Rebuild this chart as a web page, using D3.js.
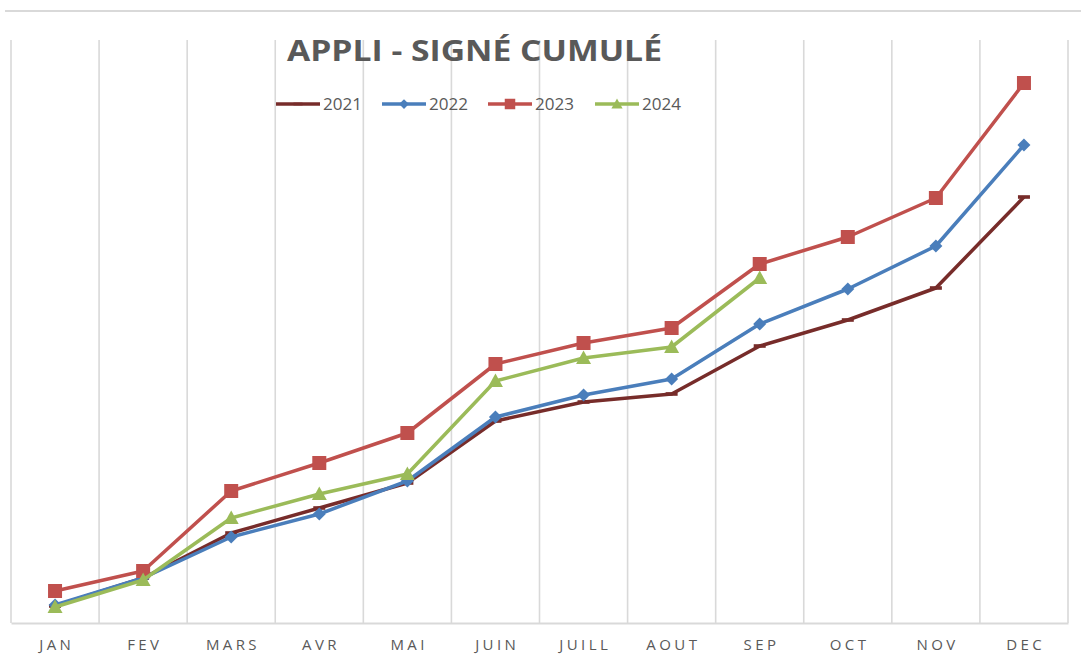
<!DOCTYPE html>
<html><head><meta charset="utf-8">
<script src="https://cdn.jsdelivr.net/npm/d3@7"></script>
<style>
html,body{margin:0;padding:0;background:#fff;}
svg{display:block;}
</style></head>
<body>
<svg id="chart" width="1081" height="666"></svg>
<script>
const months = ["JAN","FEV","MARS","AVR","MAI","JUIN","JUILL","AOUT","SEP","OCT","NOV","DEC"];
const s2021 = [17, 45, 90, 115, 140, 202, 221, 229, 277, 303, 335, 426];
const s2022 = [18, 45, 86, 109, 142, 206, 228, 244, 299, 334, 377, 478];
const s2023 = [32, 52, 132, 160, 190, 259, 280, 295, 359, 386, 425, 540];
const s2024 = [16, 43, 105, 129, 149, 242, 265, 276, 345];
const seriesNames = ["2021","2022","2023","2024"];
const yMax = 583;

(function(){
const series = [
  {name: seriesNames[0], values: s2021, color: "#772C2A", marker: "dash"},
  {name: seriesNames[1], values: s2022, color: "#4A7EBB", marker: "diamond"},
  {name: seriesNames[2], values: s2023, color: "#C0504D", marker: "square"},
  {name: seriesNames[3], values: s2024, color: "#9BBB59", marker: "triangle"}
];

const svg = d3.select("#chart");
const pL = 11, pR = 1068, pT = 40, pB = 623;
const x = d3.scaleBand().domain(months).range([pL, pR]).padding(0);
const y = d3.scaleLinear().domain([0, yMax]).range([pB, pT]);
const grid = "#D9D9D9", textCol = "#595959";

// top border line
svg.append("line").attr("x1",5).attr("x2",1081).attr("y1",11).attr("y2",11)
  .attr("stroke",grid).attr("stroke-width",2);

// vertical gridlines at band boundaries
const bounds = months.map(m => x(m)).concat([pR]);
svg.append("g").selectAll("line").data(bounds).join("line")
  .attr("x1", d=>d).attr("x2", d=>d).attr("y1", pT).attr("y2", pB)
  .attr("stroke", grid).attr("stroke-width", 1.6);

// x axis
const xAxis = svg.append("g").attr("transform",`translate(0,${pB})`)
  .call(d3.axisBottom(x).tickSize(0).tickPadding(16));
xAxis.select(".domain").attr("stroke", grid).attr("stroke-width", 2);
xAxis.selectAll("text").attr("fill", textCol)
  .style("font-family","'Open Sans', sans-serif").style("font-size","15px")
  .style("letter-spacing","3.4px").attr("dx","1.7px");

// title
svg.append("text").attr("x", 474.5).attr("y", 61).attr("text-anchor","middle")
  .attr("fill", textCol).style("font-family","'Open Sans', sans-serif")
  .style("font-weight","bold").style("font-size","29px")
  .attr("textLength", 375).attr("lengthAdjust","spacingAndGlyphs")
  .text("APPLI - SIGNÉ CUMULÉ");

function drawMarker(g, type, cx, cy, color, scale) {
  const s = scale || 1;
  if (type === "dash") {
    g.append("rect").attr("x", cx-6*s).attr("y", cy-1.8*s).attr("width", 12*s).attr("height", 3.6*s).attr("fill", color);
  } else if (type === "diamond") {
    const r = 6.5*s;
    g.append("path").attr("d", `M${cx},${cy-r}L${cx+r},${cy}L${cx},${cy+r}L${cx-r},${cy}Z`).attr("fill", color);
  } else if (type === "square") {
    const r = 7*s;
    g.append("rect").attr("x", cx-r).attr("y", cy-r).attr("width", 2*r).attr("height", 2*r).attr("fill", color);
  } else if (type === "triangle") {
    const r = 7.5*s;
    g.append("path").attr("d", `M${cx},${cy-r}L${cx+r},${cy+r*0.8}L${cx-r},${cy+r*0.8}Z`).attr("fill", color);
  }
}

const line = d3.line().x((d,i)=> x(months[i]) + x.bandwidth()/2).y(d=>y(d));
series.forEach(s => {
  const g = svg.append("g");
  g.append("path").datum(s.values).attr("d", line).attr("fill","none")
    .attr("stroke", s.color).attr("stroke-width", 3.5).attr("stroke-linejoin","round");
  s.values.forEach((v,i) => drawMarker(g, s.marker, x(months[i]) + x.bandwidth()/2, y(v), s.color, 1));
});

// legend
const legX = [276, 382, 488, 595];
const legY = 104;
series.forEach((s,i) => {
  const g = svg.append("g");
  g.append("line").attr("x1", legX[i]).attr("x2", legX[i]+44).attr("y1", legY).attr("y2", legY)
    .attr("stroke", s.color).attr("stroke-width", 3.5);
  drawMarker(g, s.marker, legX[i]+22, legY, s.color, 0.75);
  g.append("text").attr("x", legX[i]+47).attr("y", legY+6).attr("fill", textCol)
    .style("font-family","'Open Sans', sans-serif").style("font-size","17px")
    .attr("textLength", 39).attr("lengthAdjust","spacingAndGlyphs").text(s.name);
});
})();
</script>
</body></html>
